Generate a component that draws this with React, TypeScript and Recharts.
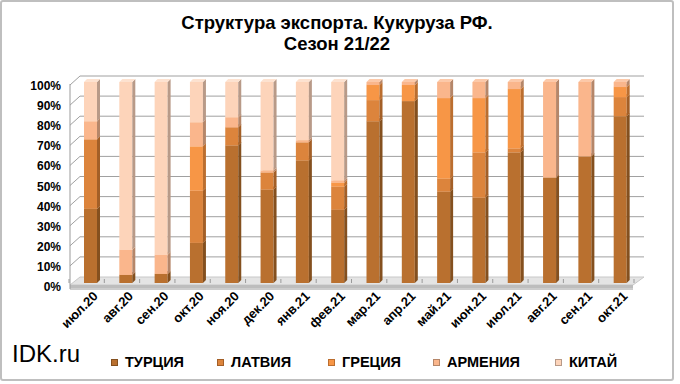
import React from 'react';
import { BarChart, Bar, XAxis, YAxis, CartesianGrid } from 'recharts';

const months = ['июл.20', 'авг.20', 'сен.20', 'окт.20', 'ноя.20', 'дек.20', 'янв.21', 'фев.21',
  'мар.21', 'апр.21', 'май.21', 'июн.21', 'июл.21', 'авг.21', 'сен.21', 'окт.21'];

const turkey  = [37, 4, 4.5, 20, 68.5, 46.5, 61, 36.5, 80.5, 90.5, 45.5, 42.5, 65, 52.5, 63, 83];
const latvia  = [34.5, 0, 0, 26, 9, 8.5, 9, 11.5, 10.5, 0, 6.5, 22.5, 2, 0, 0, 9.5];
const greece  = [0, 0, 0, 22, 0, 0, 0, 2, 7.5, 8, 40, 27, 29.5, 0, 0, 5];
const armenia = [9, 12.5, 9.5, 12, 5, 1, 1, 1, 1.5, 1.5, 8, 8, 3.5, 47.5, 37, 2.5];
const china   = [19.5, 83.5, 86, 20, 17.5, 44, 29, 49, 0, 0, 0, 0, 0, 0, 0, 0];

const yTicks = [0, 10, 20, 30, 40, 50, 60, 70, 80, 90, 100];

const SERIES = [
  { key: 'turkey', name: 'ТУРЦИЯ', front: '#b9702f', side: '#84501f', top: '#c98a55' },
  { key: 'latvia', name: 'ЛАТВИЯ', front: '#dc843c', side: '#a35f27', top: '#e7a168' },
  { key: 'greece', name: 'ГРЕЦИЯ', front: '#f79646', side: '#bb6e2f', top: '#f9b47a' },
  { key: 'armenia', name: 'АРМЕНИЯ', front: '#fab68c', side: '#b58669', top: '#fcc9a9' },
  { key: 'china', name: 'КИТАЙ', front: '#fdd4ba', side: '#b89a88', top: '#fde2d0' },
];
// left edge of each legend item
const LEGEND_X = [111, 217, 328, 433, 555];

const data = months.map((m, i) => ({
  month: m,
  turkey: turkey[i],
  latvia: latvia[i],
  greece: greece[i],
  armenia: armenia[i],
  china: china[i],
}));

const W = 680;
const H = 384;
const MARGIN = { top: 82, right: 42, bottom: 41, left: 0 };
const X_HEIGHT = 60;
const PLOT_BOTTOM = H - MARGIN.bottom - X_HEIGHT;
const PLOT_LEFT = 73;
const BAND = (W - MARGIN.right - PLOT_LEFT) / months.length;
const DEPTH = 3;
const FONT = '"Liberation Sans", Arial, sans-serif';

const Box3D = (props: any) => {
  const { x, y, width, height, s } = props;
  if (!height || height <= 0.2) return null;
  const r = x + width;
  const b = y + height;
  return (
    <g>
      <rect x={x} y={y} width={width} height={height} fill={s.front} />
      <path d={`M${r},${y} L${r + DEPTH},${y - DEPTH} L${r + DEPTH},${b - DEPTH} L${r},${b} Z`} fill={s.side} />
      <path d={`M${x},${y} L${x + DEPTH},${y - DEPTH} L${r + DEPTH},${y - DEPTH} L${r},${y} Z`} fill={s.top} />
    </g>
  );
};

const gridLine = (p: any) => {
  const y = p.y1;
  if (y >= PLOT_BOTTOM - 1) {
    // floor of the 3d plot
    return (
      <g key={p.key}>
        <polygon points={`${p.x1 - 3},${y + 2} ${p.x1 + 7},${y - 6} ${p.x2 + 6},${y - 6} ${p.x2 - 5},${y + 2}`} fill="#e4e4e4" stroke="#c8c8c8" />
        <polygon points={`${p.x1 - 3},${y + 2} ${p.x2 - 5},${y + 2} ${p.x2 - 5},${y + 5} ${p.x1 - 3},${y + 5}`} fill="#bdbdbd" />
        <line x1={p.x1 - 3} y1={y + 6} x2={p.x2 - 5} y2={y + 6} stroke="#9a9a9a" />
        <line x1={p.x1 - 3} y1={y + 6} x2={p.x1 - 3} y2={82 + 2} stroke="#9a9a9a" />
      </g>
    );
  }
  return (
    <path key={p.key} d={`M${p.x1 - 3},${y + 3} L${p.x1 + 7},${y - 6} L${p.x2 + 6},${y - 6}`} stroke="#a0a0a0" fill="none" />
  );
};

const YTick = (props: any) => {
  const { x, y, payload } = props;
  return (
    <text x={x - 4} y={y + 8} textAnchor="end" fontFamily={FONT} fontWeight="bold" fontSize={12} fill="#000">
      {payload.value}%
    </text>
  );
};

const XTick = (props: any) => {
  const { x, y, payload, index } = props;
  const left = x - BAND / 2 - 4;
  return (
    <g>
      <line x1={left} y1={y - 12} x2={left} y2={y - 8} stroke="#9a9a9a" />
      {index === months.length - 1 && (
        <line x1={left + BAND} y1={y - 12} x2={left + BAND} y2={y - 8} stroke="#9a9a9a" />
      )}
      <text x={x + 8} y={y + 6} transform={`rotate(-45 ${x + 8} ${y + 6})`} textAnchor="end"
        fontFamily={FONT} fontWeight="bold" fontSize={13} fill="#000">
        {payload.value}
      </text>
    </g>
  );
};

const LegendBox = () => (
  <div style={{ fontFamily: FONT, fontWeight: 'bold', fontSize: 14.5 }}>
    {SERIES.map((s, i) => (
      <div key={s.key} style={{ position: 'absolute', left: LEGEND_X[i], top: 354, display: 'flex', alignItems: 'center' }}>
        <span style={{ width: 7, height: 7, background: s.front, border: `1px solid ${s.side}`, marginRight: 7, boxSizing: 'border-box' }} />
        <span>{s.name}</span>
      </div>
    ))}
  </div>
);

export default function App() {
  return (
    <div style={{ position: 'absolute', left: 0, top: 0, width: W, height: H, background: '#fff' }}>
      <div style={{ position: 'absolute', left: 0, top: 0, width: 674, height: 381, border: '2px solid #bfbfbf', boxSizing: 'border-box', borderRadius: 3 }} />
      <div style={{ position: 'absolute', left: 0, top: 12, width: 674, textAlign: 'center', fontFamily: FONT, fontWeight: 'bold', fontSize: 18.5, lineHeight: '21px' }}>
        Структура экспорта. Кукуруза РФ.<br />Сезон 21/22
      </div>
      <BarChart width={W} height={H} data={data} margin={MARGIN} barSize={13}>
        <CartesianGrid vertical={false} horizontal={gridLine} />
        <XAxis dataKey="month" height={X_HEIGHT} axisLine={false} tickLine={false} tick={<XTick />} interval={0} />
        <YAxis width={PLOT_LEFT} domain={[0, 100]} ticks={yTicks} interval={0} axisLine={false} tickLine={false} tick={<YTick />} />
        {SERIES.map((s) => (
          <Bar key={s.key} dataKey={s.key} name={s.name} stackId="a" isAnimationActive={false}
            shape={(p: any) => <Box3D {...p} s={s} />} />
        ))}
      </BarChart>
      <div style={{ position: 'absolute', left: 12, top: 340, fontFamily: FONT, fontSize: 24 }}>IDK.ru</div>
      <LegendBox />
    </div>
  );
}
